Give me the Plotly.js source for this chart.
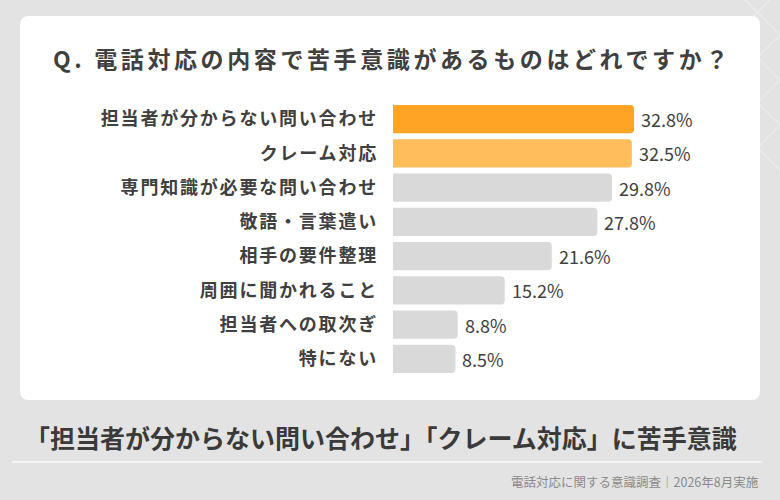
<!DOCTYPE html>
<html>
<head>
<meta charset="utf-8">
<script src="https://cdn.plot.ly/plotly-3.0.1.min.js"></script>
<style>
  html, body { margin: 0; padding: 0; background: #e3e3e3; }
  #chart { width: 780px; height: 500px; }
  #chart .gtitle { letter-spacing: 3.6px; }
  #chart .ytick text { letter-spacing: 1.8px; }
</style>
</head>
<body>
<div id="chart"></div>
<script>
// データ
const categories = [
  "担当者が分からない問い合わせ",
  "クレーム対応",
  "専門知識が必要な問い合わせ",
  "敬語・言葉遣い",
  "相手の要件整理",
  "周囲に聞かれること",
  "担当者への取次ぎ",
  "特にない",
];
const values = [32.8, 32.5, 29.8, 27.8, 21.6, 15.2, 8.8, 8.5];
const barColors = ["#ffa424", "#ffbd5c", "#d9d9d9", "#d9d9d9", "#d9d9d9", "#d9d9d9", "#d9d9d9", "#d9d9d9"];

const titleText = "Q. 電話対応の内容で苦手意識があるものはどれですか？";
const headlineText = "「担当者が分からない問い合わせ」「クレーム対応」に苦手意識";
const footerText = "電話対応に関する意識調査｜2026年8月実施";

const FONT = "'Noto Sans CJK JP', 'Noto Sans', sans-serif";
const TEXT_COLOR = "#404040";

// プロット領域（ピクセル）
const W = 780, H = 500;
const PL = 393, PR = 687, PT = 102, PB = 376;

// ピクセル -> paper 座標
const fx = (px) => (px - PL) / (PR - PL);
const fy = (py) => (PB - py) / (PB - PT);

/**
 * 角丸の四角形パス（paper 座標）
 */
function roundRectPath(x0, y0, x1, y1, r) {
  const p = (x, y) => `${fx(x)},${fy(y)}`;
  return (
    `M${p(x0 + r, y0)} L${p(x1 - r, y0)} Q${p(x1, y0)} ${p(x1, y0 + r)} ` +
    `L${p(x1, y1 - r)} Q${p(x1, y1)} ${p(x1 - r, y1)} ` +
    `L${p(x0 + r, y1)} Q${p(x0, y1)} ${p(x0, y1 - r)} ` +
    `L${p(x0, y0 + r)} Q${p(x0, y0)} ${p(x0 + r, y0)} Z`
  );
}

// 背景の模様（右上の薄い山形）
const patternShapes = [];
for (let k = 0; k < 4; k++) {
  const y0 = -10 + k * 45;
  [[735, y0, 780, y0 + 45], [735, y0 + 45, 780, y0]].forEach((s) => {
    patternShapes.push({
      type: "line", xref: "paper", yref: "paper", layer: "below",
      x0: fx(s[0]), y0: fy(s[1]), x1: fx(s[2]), y1: fy(s[3]),
      line: { color: "#ebebeb", width: 1.5 },
    });
  });
}

const shapes = patternShapes.concat([
  {
    type: "path", xref: "paper", yref: "paper", layer: "below",
    path: roundRectPath(20, 16, 760, 400, 9),
    fillcolor: "#ffffff", line: { width: 0 },
  },
  {
    type: "line", xref: "paper", yref: "paper", layer: "below",
    x0: fx(12), x1: fx(762), y0: fy(462), y1: fy(462),
    line: { color: "#f3f3f3", width: 2 },
  },
]);

// 値ラベル
const valueLabels = values.map((v, i) => ({
  x: v, y: categories[i], xref: "x", yref: "y",
  text: v.toFixed(1) + "%",
  showarrow: false, xanchor: "left", yanchor: "middle", xshift: 5,
  font: { family: FONT, size: 18, color: TEXT_COLOR },
}));

const textAnnotations = [
  {
    xref: "paper", yref: "paper", x: fx(381), y: fy(437),
    text: headlineText, showarrow: false, xanchor: "center", yanchor: "middle",
    font: { family: FONT, size: 25, color: "#3a3a3a", weight: "bold" },
  },
  {
    xref: "paper", yref: "paper", x: fx(761), y: fy(481),
    text: footerText, showarrow: false, xanchor: "right", yanchor: "middle",
    font: { family: FONT, size: 12.5, color: "#8a8a8a" },
  },
];

const trace = {
  type: "bar",
  orientation: "h",
  x: values,
  y: categories,
  width: 0.82,
  marker: { color: barColors, cornerradius: 4 },
  hoverinfo: "none",
};

const layout = {
  width: W,
  height: H,
  margin: { l: PL, r: W - PR, t: PT, b: H - PB, pad: 0 },
  paper_bgcolor: "#e3e3e3",
  plot_bgcolor: "rgba(0,0,0,0)",
  showlegend: false,
  title: {
    text: titleText,
    xref: "container", yref: "container",
    x: 53 / W, xanchor: "left",
    y: 1 - 60 / H, yanchor: "middle",
    font: { family: FONT, size: 23, color: TEXT_COLOR, weight: "bold" },
  },
  xaxis: {
    range: [0, 40],
    visible: false,
    fixedrange: true,
  },
  yaxis: {
    type: "category",
    categoryorder: "array",
    categoryarray: categories,
    autorange: "reversed",
    showgrid: false,
    zeroline: false,
    showline: false,
    ticks: "",
    ticklabelstandoff: 14,
    automargin: false,
    tickfont: { family: FONT, size: 18, color: TEXT_COLOR, weight: "bold" },
    fixedrange: true,
  },
  shapes: shapes,
  annotations: valueLabels.concat(textAnnotations),
};

Plotly.newPlot("chart", [trace], layout, { displayModeBar: false, staticPlot: true });
</script>
</body>
</html>
